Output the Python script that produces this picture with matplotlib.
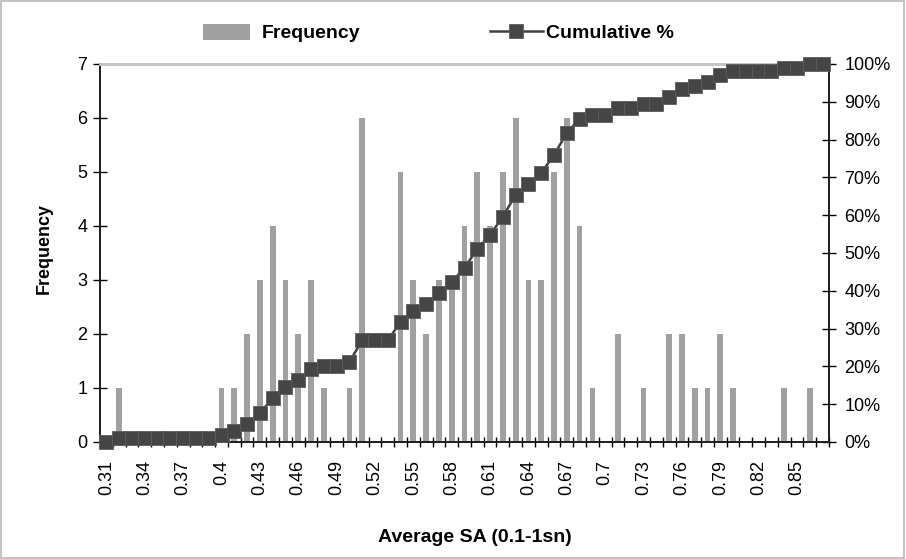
import numpy as np
import matplotlib
matplotlib.use('Agg')
import matplotlib.pyplot as plt
from matplotlib.patches import Rectangle
from matplotlib.ticker import MultipleLocator, FixedLocator

plt.rcParams['font.family'] = ['Liberation Sans', 'DejaVu Sans']

## histogram bins (Average SA) and counts
bins = [f"{v:g}" for v in np.round(np.arange(31, 88) / 100, 2)]
freq = [0, 1, 0, 0, 0, 0, 0, 0, 0, 1,
        1, 2, 3, 4, 3, 2, 3, 1, 0, 1,
        6, 0, 0, 5, 3, 2, 3, 3, 4, 5,
        4, 5, 6, 3, 3, 5, 6, 4, 1, 0,
        2, 0, 1, 0, 2, 2, 1, 1, 2, 1,
        0, 0, 0, 1, 0, 1, 0]

## cumulative share of the counts
cum_pct = np.cumsum(freq) / np.sum(freq)

x = np.arange(len(bins))

fig = plt.figure(figsize=(9.06, 5.59), dpi=100)
fig.patches.append(Rectangle((0.001, 0.001), 0.997, 0.997, transform=fig.transFigure,
                             fill=False, edgecolor='#b8b8b8', linewidth=1.2))

ax = fig.add_axes([100 / 906, 1 - 442 / 559, 729 / 906, 378 / 559])
bars = ax.bar(x, freq, width=0.45, color='#a0a0a0', label='Frequency', zorder=2)
ax.set_xlim(-0.5, len(bins) - 0.5)
ax.set_ylim(0, 7)

ax2 = ax.twinx()
line, = ax2.plot(x, cum_pct, color='#404040', linewidth=1.8, marker='s',
                 markersize=10, markerfacecolor='#454545', markeredgecolor='#5c5c5c',
                 markeredgewidth=0.6, label='Cumulative %', clip_on=False, zorder=3)
ax2.set_ylim(0, 1)

## axis styling, Excel-like
for a in (ax, ax2):
    for s in a.spines.values():
        s.set_linewidth(1.3)
        s.set_color('#202020')
    a.spines['top'].set_color('#c4c4c4')
    a.spines['top'].set_linewidth(2)

ax.set_xticks(x[::3])
ax.set_xticklabels(bins[::3], rotation=90, fontsize=13)
ax.xaxis.set_minor_locator(FixedLocator(np.arange(-0.5, len(bins), 1)))
ax.tick_params(axis='x', which='major', length=0, pad=13)
ax.tick_params(axis='x', which='minor', direction='inout', length=7, width=1)

ax.yaxis.set_major_locator(MultipleLocator(1))
ax.tick_params(axis='y', direction='inout', length=10, width=1, labelsize=13, pad=4)

ax2.yaxis.set_major_locator(MultipleLocator(0.1))
ax2.set_yticklabels([f"{int(round(v * 100))}%" for v in ax2.get_yticks()])
ax2.tick_params(axis='y', direction='inout', length=10, width=1, labelsize=13, pad=6)

fig.text(44.5 / 906, 1 - 248 / 559, 'Frequency', rotation=90, ha='center', va='center',
         fontsize=13, fontweight='bold')
fig.text(475 / 906, 1 - 538 / 559, 'Average SA (0.1-1sn)', ha='center', va='center',
         fontsize=14, fontweight='bold')

## two legend entries, placed where the reference has them
leg_font = {'size': 14, 'weight': 'bold'}
leg1 = fig.legend([bars], ['Frequency'], loc='center left',
                  bbox_to_anchor=(203 / 906, 1 - 33 / 559), frameon=False, prop=leg_font,
                  handlelength=2.4, handleheight=0.9, handletextpad=0.6,
                  borderpad=0, borderaxespad=0)
leg2 = fig.legend([line], ['Cumulative %'], loc='center left',
                  bbox_to_anchor=(490 / 906, 1 - 33 / 559), frameon=False, prop=leg_font,
                  handlelength=2.7, handletextpad=0.2, borderpad=0, borderaxespad=0)

fig.savefig('out.png', dpi=100)
